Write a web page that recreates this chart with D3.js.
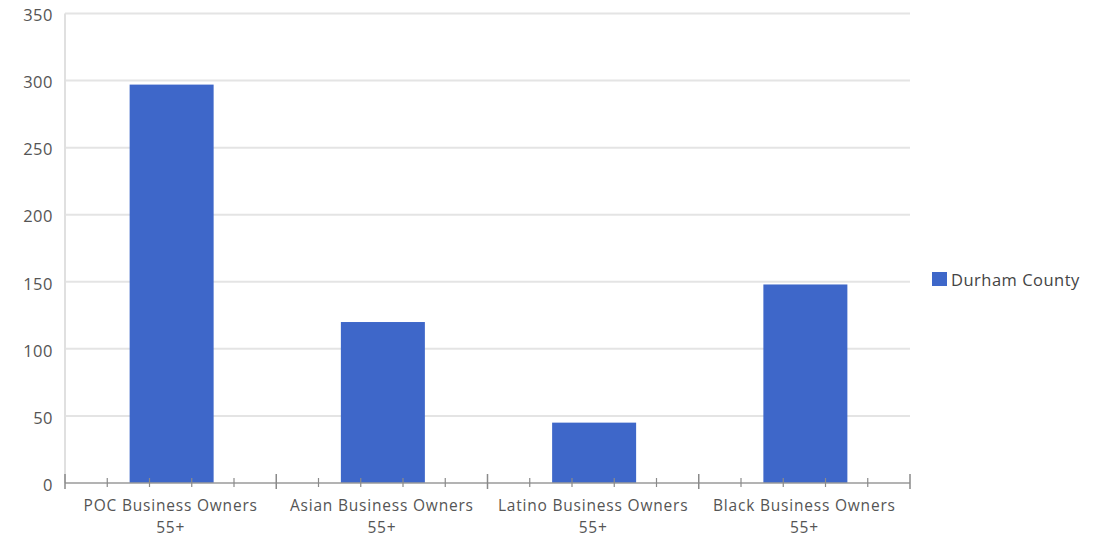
<!DOCTYPE html>
<html><head><meta charset="utf-8">
<script src="https://cdn.jsdelivr.net/npm/d3@7"></script>
<style>body{margin:0;background:#fff}svg{display:block}text{font-family:"Open Sans",sans-serif}</style>
</head><body>
<svg id="c" width="1112" height="539"></svg>
<script>
const categories = ["POC Business Owners 55+", "Asian Business Owners 55+", "Latino Business Owners 55+", "Black Business Owners 55+"];
const labelLine1 = ["POC Business Owners", "Asian Business Owners", "Latino Business Owners", "Black Business Owners"];
const labelLine2 = ["55+", "55+", "55+", "55+"];
const durhamCounty = [297, 120, 45, 148];
const yTicks = [0, 50, 100, 150, 200, 250, 300, 350];
const seriesName = "Durham County";

const svg = d3.select("#c");
const L = 65, R = 910, T = 13.5, B = 483;
const x = d3.scaleBand().domain(categories).range([L, R]).paddingInner(0).paddingOuter(0);
const y = d3.scaleLinear().domain([0, 350]).range([B, T]);
const color = "#3e67c9";
const fs = 16.5, ls = 0.5;

// gridlines
svg.append("g").selectAll("line").data(yTicks.filter(d => d > 0)).join("line")
  .attr("x1", L).attr("x2", R).attr("y1", d => y(d)).attr("y2", d => y(d))
  .attr("stroke", "#e4e4e4").attr("stroke-width", 2);
// left axis line
svg.append("line").attr("x1", L).attr("x2", L).attr("y1", T).attr("y2", B)
  .attr("stroke", "#e0e0e0").attr("stroke-width", 2);

// y labels
svg.append("g").selectAll("text").data(yTicks).join("text")
  .attr("x", 53).attr("y", d => y(d) + 2).attr("dy", "0.35em").attr("text-anchor", "end")
  .attr("font-size", fs).attr("letter-spacing", ls).attr("fill", "#555").text(d => d);

// bars
const bw = 84;
svg.append("g").selectAll("rect").data(categories).join("rect")
  .attr("x", d => x(d) + x.bandwidth() / 2 - bw / 2 + 1).attr("width", bw)
  .attr("y", (d, i) => y(durhamCounty[i])).attr("height", (d, i) => B - y(durhamCounty[i]))
  .attr("fill", color);

// x axis line & ticks
const ax = svg.append("g");
ax.append("line").attr("x1", L).attr("x2", R).attr("y1", B).attr("y2", B).attr("stroke", "#9a9a9a").attr("stroke-width", 1.5);
const minor = [];
categories.forEach(c => { for (let k = 1; k < 5; k++) minor.push(x(c) + x.bandwidth() * k / 5); });
ax.selectAll("line.mi").data(minor).join("line").attr("class", "mi")
  .attr("x1", d => d).attr("x2", d => d).attr("y1", B - 5).attr("y2", B + 4)
  .attr("stroke", "#8a8a8a").attr("stroke-width", 1.2);
const major = categories.map(c => x(c)).concat([R]);
ax.selectAll("line.ma").data(major).join("line").attr("class", "ma")
  .attr("x1", d => d).attr("x2", d => d).attr("y1", B - 9).attr("y2", B + 6)
  .attr("stroke", "#8a8a8a").attr("stroke-width", 1.5);

// x labels (two separate text lines)
const cx = d => x(d) + x.bandwidth() / 2;
svg.append("g").selectAll("text").data(categories).join("text")
  .attr("x", cx).attr("y", 511).attr("text-anchor", "middle")
  .attr("font-size", 15.5).attr("letter-spacing", 0.8).attr("fill", "#555")
  .text((d, i) => labelLine1[i]);
svg.append("g").selectAll("text").data(categories).join("text")
  .attr("x", cx).attr("y", 533).attr("text-anchor", "middle")
  .attr("font-size", 15.5).attr("letter-spacing", 0.8).attr("fill", "#555")
  .text((d, i) => labelLine2[i]);

// legend
svg.append("rect").attr("x", 932).attr("y", 272).attr("width", 15).attr("height", 14).attr("fill", color);
svg.append("text").attr("x", 951).attr("y", 286).attr("font-size", fs).attr("letter-spacing", ls).attr("fill", "#444").text(seriesName);
</script>
</body></html>
